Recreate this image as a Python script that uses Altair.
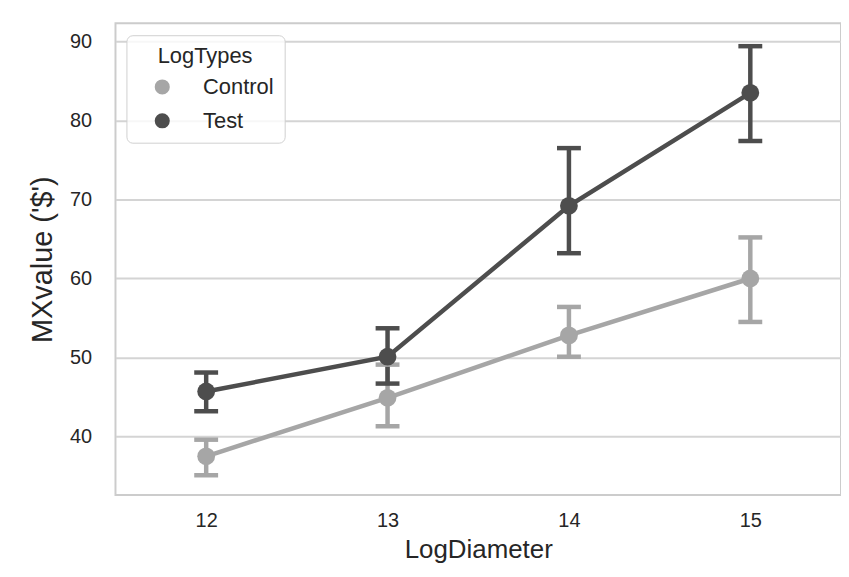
import altair as alt
import pandas as pd

diameters = [12, 13, 14, 15]
control_mean = [37.5, 44.9, 52.8, 60.0]
control_lo = [35.1, 41.3, 50.1, 54.5]
control_hi = [39.6, 49.1, 56.4, 65.2]
test_mean = [45.7, 50.1, 69.2, 83.5]
test_lo = [43.2, 46.7, 63.2, 77.4]
test_hi = [48.1, 53.7, 76.5, 89.4]
groups = ["Control", "Test"]
colors = ["#a6a6a6", "#4d4d4d"]

rows = []
for g, m, lo, hi in [("Control", control_mean, control_lo, control_hi),
                     ("Test", test_mean, test_lo, test_hi)]:
    for d, a, b, c in zip(diameters, m, lo, hi):
        rows.append({"LogDiameter": d, "MXvalue": a, "lo": b, "hi": c, "LogTypes": g})
df = pd.DataFrame(rows)

font = "Liberation Sans"
xs = alt.X("LogDiameter:Q", scale=alt.Scale(domain=[11.5, 15.5], nice=False, zero=False),
           axis=alt.Axis(values=diameters, format="d", title="LogDiameter", grid=False))
ys = alt.Y("MXvalue:Q", scale=alt.Scale(domain=[32.6, 92.3], nice=False, zero=False),
           axis=alt.Axis(values=[40, 50, 60, 70, 80, 90], title="MXvalue ('$')"))
leg = alt.Legend(title="LogTypes", orient="none", legendX=11, legendY=12)
col = alt.Color("LogTypes:N", scale=alt.Scale(domain=groups, range=colors), legend=leg)

base = alt.Chart(df)

lines = base.mark_line(strokeWidth=4.5).encode(x=xs, y=ys, color=col, detail="LogTypes:N")
rules = base.mark_rule(strokeWidth=4.5).encode(x=xs, y=alt.Y("lo:Q"), y2="hi:Q", color=col)
cap_lo = base.mark_tick(thickness=4.5, size=24, orient="horizontal", opacity=1).encode(
    x=xs, y=alt.Y("lo:Q"), color=col)
cap_hi = base.mark_tick(thickness=4.5, size=24, orient="horizontal", opacity=1).encode(
    x=xs, y=alt.Y("hi:Q"), color=col)
points = base.mark_point(filled=True, size=320, opacity=1, shape="circle").encode(
    x=xs, y=ys, color=col)

chart = alt.layer(lines, rules, cap_lo, cap_hi, points).properties(
    width=729, height=474,
    padding={"left": 108, "top": 14, "right": 0, "bottom": 70},
    autosize=alt.AutoSizeParams(type="none"),
).configure_view(
    stroke="#cccccc", strokeWidth=2
).configure_axis(
    labelFont=font, titleFont=font, labelFontSize=20, labelColor="#262626",
    titleColor="#262626", titleFontWeight="normal", gridColor="#d4d4d4", gridWidth=2,
    domain=False, ticks=False,
).configure_axisY(
    labelPadding=24, titleFontSize=29, titlePadding=12,
).configure_axisX(
    labelPadding=16, titleFontSize=26, titlePadding=6,
).configure_legend(
    labelFont=font, titleFont=font, labelFontSize=22, titleFontSize=22,
    titleFontWeight="normal", labelColor="#262626", titleColor="#262626",
    fillColor="rgba(255,255,255,0.8)", strokeColor="#d0d0d0", cornerRadius=6,
    padding=11, symbolSize=230, symbolType="circle", symbolStrokeWidth=0,
    symbolOffset=14, labelOffset=30, rowPadding=12, titlePadding=8, titleAnchor="middle",
)

chart.save("out.html", embed_options={"renderer": "svg", "actions": False})
